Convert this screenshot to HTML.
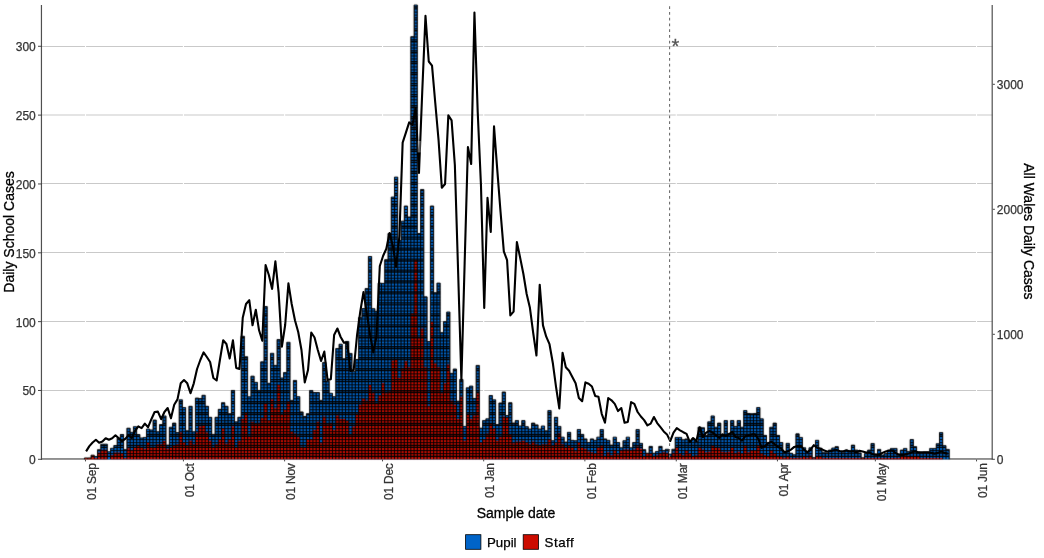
<!DOCTYPE html><html><head><meta charset="utf-8"><title>Daily School Cases</title>
<style>html,body{margin:0;padding:0;background:#fff}svg{display:block}text{font-family:"Liberation Sans",Arial,sans-serif}</style></head><body>
<svg width="1044" height="558" viewBox="0 0 1044 558">
<rect width="1044" height="558" fill="#fff"/>
<path d="M41.6 458.60H992.7M41.6 390.50H992.7M41.6 321.50H992.7M41.6 252.50H992.7M41.6 183.50H992.7M41.6 115.00H992.7M41.6 46.50H992.7" stroke="#c9c9c9" stroke-width="1" fill="none"/>
<path d="M85.52 5.4V459.3M183.43 5.4V459.3M284.61 5.4V459.3M382.53 5.4V459.3M483.70 5.4V459.3M584.88 5.4V459.3M676.27 5.4V459.3M777.45 5.4V459.3M875.36 5.4V459.3M976.54 5.4V459.3" stroke="#fff" stroke-width="1.1" fill="none"/>
<path d="M41 459H993" stroke="#7a7a7a" stroke-width="1.6" fill="none"/>
<defs><filter id="bl" color-interpolation-filters="sRGB" x="0" y="0" width="1044" height="558" filterUnits="userSpaceOnUse"><feConvolveMatrix order="3" kernelMatrix="0.0100 0.0800 0.0100 0.0800 0.6400 0.0800 0.0100 0.0800 0.0100" edgeMode="duplicate" preserveAlpha="false"/></filter><clipPath id="cb"><path d="M94.26 456.55h3.2634V459.30h-3.2634zM97.52 449.66h3.2634V459.30h-3.2634zM100.79 444.16h3.2634V459.30h-3.2634zM104.05 444.16h3.2634V459.30h-3.2634zM107.31 451.73h3.2634V459.30h-3.2634zM110.58 448.29h3.2634V459.30h-3.2634zM113.84 445.53h3.2634V459.30h-3.2634zM117.10 438.10h3.2634V459.30h-3.2634zM120.37 434.52h3.2634V459.30h-3.2634zM123.63 449.66h3.2634V459.30h-3.2634zM126.89 428.19h3.2634V459.30h-3.2634zM130.16 432.32h3.2634V459.30h-3.2634zM133.42 426.67h3.2634V459.30h-3.2634zM136.68 434.52h3.2634V459.30h-3.2634zM139.95 437.96h3.2634V459.30h-3.2634zM143.21 437.41h3.2634V459.30h-3.2634zM146.47 429.01h3.2634V459.30h-3.2634zM149.74 429.98h3.2634V459.30h-3.2634zM153.00 420.06h3.2634V459.30h-3.2634zM156.26 431.77h3.2634V459.30h-3.2634zM159.53 424.61h3.2634V459.30h-3.2634zM162.79 415.93h3.2634V459.30h-3.2634zM166.05 445.12h3.2634V459.30h-3.2634zM169.32 427.22h3.2634V459.30h-3.2634zM172.58 423.09h3.2634V459.30h-3.2634zM175.84 432.59h3.2634V459.30h-3.2634zM179.11 399.83h3.2634V459.30h-3.2634zM182.37 407.54h3.2634V459.30h-3.2634zM185.63 430.80h3.2634V459.30h-3.2634zM188.90 406.30h3.2634V459.30h-3.2634zM192.16 431.77h3.2634V459.30h-3.2634zM195.42 398.04h3.2634V459.30h-3.2634zM198.69 398.59h3.2634V459.30h-3.2634zM201.95 395.28h3.2634V459.30h-3.2634zM205.21 406.30h3.2634V459.30h-3.2634zM208.48 417.31h3.2634V459.30h-3.2634zM211.74 434.38h3.2634V459.30h-3.2634zM215.00 417.31h3.2634V459.30h-3.2634zM218.27 409.33h3.2634V459.30h-3.2634zM221.53 402.72h3.2634V459.30h-3.2634zM224.79 406.30h3.2634V459.30h-3.2634zM228.06 413.73h3.2634V459.30h-3.2634zM231.32 390.47h3.2634V459.30h-3.2634zM234.58 421.85h3.2634V459.30h-3.2634zM237.85 417.31h3.2634V459.30h-3.2634zM241.11 336.22h3.2634V459.30h-3.2634zM244.37 356.74h3.2634V459.30h-3.2634zM247.64 396.80h3.2634V459.30h-3.2634zM250.90 376.15h3.2634V459.30h-3.2634zM254.17 382.34h3.2634V459.30h-3.2634zM257.43 390.47h3.2634V459.30h-3.2634zM260.69 361.83h3.2634V459.30h-3.2634zM263.96 306.49h3.2634V459.30h-3.2634zM267.22 383.31h3.2634V459.30h-3.2634zM270.48 353.29h3.2634V459.30h-3.2634zM273.75 365.41h3.2634V459.30h-3.2634zM277.01 339.53h3.2634V459.30h-3.2634zM280.27 377.94h3.2634V459.30h-3.2634zM283.54 372.57h3.2634V459.30h-3.2634zM286.80 342.28h3.2634V459.30h-3.2634zM290.06 400.38h3.2634V459.30h-3.2634zM293.33 380.42h3.2634V459.30h-3.2634zM296.59 396.66h3.2634V459.30h-3.2634zM299.85 411.94h3.2634V459.30h-3.2634zM303.12 416.48h3.2634V459.30h-3.2634zM306.38 413.73h3.2634V459.30h-3.2634zM309.64 390.60h3.2634V459.30h-3.2634zM312.91 392.53h3.2634V459.30h-3.2634zM316.17 392.53h3.2634V459.30h-3.2634zM319.43 400.38h3.2634V459.30h-3.2634zM322.70 362.38h3.2634V459.30h-3.2634zM325.96 381.10h3.2634V459.30h-3.2634zM329.22 393.22h3.2634V459.30h-3.2634zM332.49 396.66h3.2634V459.30h-3.2634zM335.75 348.61h3.2634V459.30h-3.2634zM339.01 344.21h3.2634V459.30h-3.2634zM342.28 358.80h3.2634V459.30h-3.2634zM345.54 341.45h3.2634V459.30h-3.2634zM348.80 353.43h3.2634V459.30h-3.2634zM352.07 371.47h3.2634V459.30h-3.2634zM355.33 359.49h3.2634V459.30h-3.2634zM358.59 317.64h3.2634V459.30h-3.2634zM361.86 308.55h3.2634V459.30h-3.2634zM365.12 288.59h3.2634V459.30h-3.2634zM368.38 256.51h3.2634V459.30h-3.2634zM371.65 308.69h3.2634V459.30h-3.2634zM374.91 311.30h3.2634V459.30h-3.2634zM378.17 283.08h3.2634V459.30h-3.2634zM381.44 283.36h3.2634V459.30h-3.2634zM384.70 259.68h3.2634V459.30h-3.2634zM387.96 233.52h3.2634V459.30h-3.2634zM391.23 197.04h3.2634V459.30h-3.2634zM394.49 177.08h3.2634V459.30h-3.2634zM397.75 240.40h3.2634V459.30h-3.2634zM401.02 221.13h3.2634V459.30h-3.2634zM404.28 205.99h3.2634V459.30h-3.2634zM407.54 217.00h3.2634V459.30h-3.2634zM410.81 36.65h3.2634V459.30h-3.2634zM414.07 4.99h3.2634V459.30h-3.2634zM417.34 233.52h3.2634V459.30h-3.2634zM420.60 189.47h3.2634V459.30h-3.2634zM423.86 296.85h3.2634V459.30h-3.2634zM427.13 341.59h3.2634V459.30h-3.2634zM430.39 205.99h3.2634V459.30h-3.2634zM433.65 292.72h3.2634V459.30h-3.2634zM436.92 283.08h3.2634V459.30h-3.2634zM440.18 332.64h3.2634V459.30h-3.2634zM443.44 321.63h3.2634V459.30h-3.2634zM446.71 311.99h3.2634V459.30h-3.2634zM449.97 373.39h3.2634V459.30h-3.2634zM453.23 368.99h3.2634V459.30h-3.2634zM456.50 401.20h3.2634V459.30h-3.2634zM459.76 379.45h3.2634V459.30h-3.2634zM463.02 426.40h3.2634V459.30h-3.2634zM466.29 387.85h3.2634V459.30h-3.2634zM469.55 386.06h3.2634V459.30h-3.2634zM472.81 398.59h3.2634V459.30h-3.2634zM476.08 365.41h3.2634V459.30h-3.2634zM479.34 428.19h3.2634V459.30h-3.2634zM482.60 420.61h3.2634V459.30h-3.2634zM485.87 418.83h3.2634V459.30h-3.2634zM489.13 395.56h3.2634V459.30h-3.2634zM492.39 399.83h3.2634V459.30h-3.2634zM495.66 424.61h3.2634V459.30h-3.2634zM498.92 402.99h3.2634V459.30h-3.2634zM502.18 391.98h3.2634V459.30h-3.2634zM505.45 415.52h3.2634V459.30h-3.2634zM508.71 402.72h3.2634V459.30h-3.2634zM511.97 423.09h3.2634V459.30h-3.2634zM515.24 420.61h3.2634V459.30h-3.2634zM518.50 425.98h3.2634V459.30h-3.2634zM521.76 420.61h3.2634V459.30h-3.2634zM525.03 426.67h3.2634V459.30h-3.2634zM528.29 429.01h3.2634V459.30h-3.2634zM531.55 423.09h3.2634V459.30h-3.2634zM534.82 424.88h3.2634V459.30h-3.2634zM538.08 429.01h3.2634V459.30h-3.2634zM541.34 425.98h3.2634V459.30h-3.2634zM544.61 430.80h3.2634V459.30h-3.2634zM547.87 410.56h3.2634V459.30h-3.2634zM551.13 440.71h3.2634V459.30h-3.2634zM554.40 417.31h3.2634V459.30h-3.2634zM557.66 426.40h3.2634V459.30h-3.2634zM560.92 437.14h3.2634V459.30h-3.2634zM564.19 442.09h3.2634V459.30h-3.2634zM567.45 432.32h3.2634V459.30h-3.2634zM570.71 440.30h3.2634V459.30h-3.2634zM573.98 440.71h3.2634V459.30h-3.2634zM577.24 429.56h3.2634V459.30h-3.2634zM580.51 434.38h3.2634V459.30h-3.2634zM583.77 438.92h3.2634V459.30h-3.2634zM587.03 442.50h3.2634V459.30h-3.2634zM590.30 438.92h3.2634V459.30h-3.2634zM593.56 440.30h3.2634V459.30h-3.2634zM596.82 437.14h3.2634V459.30h-3.2634zM600.09 429.56h3.2634V459.30h-3.2634zM603.35 438.92h3.2634V459.30h-3.2634zM606.61 440.30h3.2634V459.30h-3.2634zM609.88 445.12h3.2634V459.30h-3.2634zM613.14 437.14h3.2634V459.30h-3.2634zM616.40 442.50h3.2634V459.30h-3.2634zM619.67 447.87h3.2634V459.30h-3.2634zM622.93 440.71h3.2634V459.30h-3.2634zM626.19 437.14h3.2634V459.30h-3.2634zM629.46 447.87h3.2634V459.30h-3.2634zM632.72 442.50h3.2634V459.30h-3.2634zM635.98 429.56h3.2634V459.30h-3.2634zM639.25 443.33h3.2634V459.30h-3.2634zM642.51 449.66h3.2634V459.30h-3.2634zM649.04 446.36h3.2634V459.30h-3.2634zM652.30 453.24h3.2634V459.30h-3.2634zM655.56 451.45h3.2634V459.30h-3.2634zM658.83 446.36h3.2634V459.30h-3.2634zM662.09 450.49h3.2634V459.30h-3.2634zM665.35 449.25h3.2634V459.30h-3.2634zM668.62 454.07h3.2634V459.30h-3.2634zM671.88 449.25h3.2634V459.30h-3.2634zM675.14 437.41h3.2634V459.30h-3.2634zM678.41 437.41h3.2634V459.30h-3.2634zM681.67 439.75h3.2634V459.30h-3.2634zM684.93 438.92h3.2634V459.30h-3.2634zM688.20 441.54h3.2634V459.30h-3.2634zM691.46 438.92h3.2634V459.30h-3.2634zM694.72 441.54h3.2634V459.30h-3.2634zM697.99 427.22h3.2634V459.30h-3.2634zM701.25 427.77h3.2634V459.30h-3.2634zM704.51 435.35h3.2634V459.30h-3.2634zM707.78 421.85h3.2634V459.30h-3.2634zM711.04 415.93h3.2634V459.30h-3.2634zM714.30 427.22h3.2634V459.30h-3.2634zM717.57 423.09h3.2634V459.30h-3.2634zM720.83 434.38h3.2634V459.30h-3.2634zM724.09 420.61h3.2634V459.30h-3.2634zM727.36 433.56h3.2634V459.30h-3.2634zM730.62 420.61h3.2634V459.30h-3.2634zM733.88 426.40h3.2634V459.30h-3.2634zM737.15 420.61h3.2634V459.30h-3.2634zM740.41 427.22h3.2634V459.30h-3.2634zM743.68 410.56h3.2634V459.30h-3.2634zM746.94 413.46h3.2634V459.30h-3.2634zM750.20 413.73h3.2634V459.30h-3.2634zM753.47 413.46h3.2634V459.30h-3.2634zM756.73 407.54h3.2634V459.30h-3.2634zM759.99 418.83h3.2634V459.30h-3.2634zM763.26 435.35h3.2634V459.30h-3.2634zM766.52 442.50h3.2634V459.30h-3.2634zM769.78 427.22h3.2634V459.30h-3.2634zM773.05 423.09h3.2634V459.30h-3.2634zM776.31 435.35h3.2634V459.30h-3.2634zM779.57 442.50h3.2634V459.30h-3.2634zM782.84 451.45h3.2634V459.30h-3.2634zM786.10 443.33h3.2634V459.30h-3.2634zM789.36 453.24h3.2634V459.30h-3.2634zM792.63 454.76h3.2634V459.30h-3.2634zM795.89 433.83h3.2634V459.30h-3.2634zM799.15 437.41h3.2634V459.30h-3.2634zM802.42 447.87h3.2634V459.30h-3.2634zM805.68 451.45h3.2634V459.30h-3.2634zM808.94 447.87h3.2634V459.30h-3.2634zM812.21 457.65h3.2634V459.30h-3.2634zM815.47 440.30h3.2634V459.30h-3.2634zM818.73 448.15h3.2634V459.30h-3.2634zM822.00 452.14h3.2634V459.30h-3.2634zM825.26 452.83h3.2634V459.30h-3.2634zM828.52 450.08h3.2634V459.30h-3.2634zM831.79 448.01h3.2634V459.30h-3.2634zM835.05 446.63h3.2634V459.30h-3.2634zM838.31 451.45h3.2634V459.30h-3.2634zM841.58 452.14h3.2634V459.30h-3.2634zM844.84 450.08h3.2634V459.30h-3.2634zM848.10 450.76h3.2634V459.30h-3.2634zM851.37 445.12h3.2634V459.30h-3.2634zM854.63 450.08h3.2634V459.30h-3.2634zM857.89 452.83h3.2634V459.30h-3.2634zM861.16 457.79h3.2634V459.30h-3.2634zM864.42 453.52h3.2634V459.30h-3.2634zM867.68 450.08h3.2634V459.30h-3.2634zM870.95 443.47h3.2634V459.30h-3.2634zM874.21 454.21h3.2634V459.30h-3.2634zM877.47 449.39h3.2634V459.30h-3.2634zM880.74 455.03h3.2634V459.30h-3.2634zM884.00 453.52h3.2634V459.30h-3.2634zM887.26 450.08h3.2634V459.30h-3.2634zM890.53 448.42h3.2634V459.30h-3.2634zM893.79 448.42h3.2634V459.30h-3.2634zM897.05 454.21h3.2634V459.30h-3.2634zM900.32 450.08h3.2634V459.30h-3.2634zM903.58 448.42h3.2634V459.30h-3.2634zM906.85 451.45h3.2634V459.30h-3.2634zM910.11 439.61h3.2634V459.30h-3.2634zM913.37 446.63h3.2634V459.30h-3.2634zM916.64 452.14h3.2634V459.30h-3.2634zM919.90 452.83h3.2634V459.30h-3.2634zM923.16 452.14h3.2634V459.30h-3.2634zM926.43 452.14h3.2634V459.30h-3.2634zM929.69 448.42h3.2634V459.30h-3.2634zM932.95 448.42h3.2634V459.30h-3.2634zM936.22 443.74h3.2634V459.30h-3.2634zM939.48 432.59h3.2634V459.30h-3.2634zM942.74 445.67h3.2634V459.30h-3.2634zM946.01 449.39h3.2634V459.30h-3.2634zM84.47 457.92h3.2634V459.30h-3.2634zM87.73 457.92h3.2634V459.30h-3.2634zM91.00 455.17h3.2634V459.30h-3.2634zM94.26 457.92h3.2634V459.30h-3.2634zM97.52 452.42h3.2634V459.30h-3.2634zM100.79 449.66h3.2634V459.30h-3.2634zM104.05 449.66h3.2634V459.30h-3.2634zM110.58 455.17h3.2634V459.30h-3.2634zM113.84 452.42h3.2634V459.30h-3.2634zM117.10 452.42h3.2634V459.30h-3.2634zM120.37 452.97h3.2634V459.30h-3.2634zM123.63 457.92h3.2634V459.30h-3.2634zM126.89 448.29h3.2634V459.30h-3.2634zM130.16 449.66h3.2634V459.30h-3.2634zM133.42 446.91h3.2634V459.30h-3.2634zM136.68 444.98h3.2634V459.30h-3.2634zM139.95 446.91h3.2634V459.30h-3.2634zM143.21 448.70h3.2634V459.30h-3.2634zM146.47 442.50h3.2634V459.30h-3.2634zM149.74 447.87h3.2634V459.30h-3.2634zM153.00 447.87h3.2634V459.30h-3.2634zM156.26 444.29h3.2634V459.30h-3.2634zM159.53 444.29h3.2634V459.30h-3.2634zM162.79 440.99h3.2634V459.30h-3.2634zM166.05 448.70h3.2634V459.30h-3.2634zM169.32 447.87h3.2634V459.30h-3.2634zM172.58 445.67h3.2634V459.30h-3.2634zM175.84 444.29h3.2634V459.30h-3.2634zM179.11 432.59h3.2634V459.30h-3.2634zM182.37 442.50h3.2634V459.30h-3.2634zM185.63 446.08h3.2634V459.30h-3.2634zM188.90 440.71h3.2634V459.30h-3.2634zM192.16 444.29h3.2634V459.30h-3.2634zM195.42 432.59h3.2634V459.30h-3.2634zM198.69 426.40h3.2634V459.30h-3.2634zM201.95 424.88h3.2634V459.30h-3.2634zM205.21 432.59h3.2634V459.30h-3.2634zM208.48 440.71h3.2634V459.30h-3.2634zM211.74 447.87h3.2634V459.30h-3.2634zM215.00 444.29h3.2634V459.30h-3.2634zM218.27 438.92h3.2634V459.30h-3.2634zM221.53 428.19h3.2634V459.30h-3.2634zM224.79 443.74h3.2634V459.30h-3.2634zM228.06 438.92h3.2634V459.30h-3.2634zM231.32 426.40h3.2634V459.30h-3.2634zM234.58 447.87h3.2634V459.30h-3.2634zM237.85 440.71h3.2634V459.30h-3.2634zM241.11 419.10h3.2634V459.30h-3.2634zM244.37 412.91h3.2634V459.30h-3.2634zM247.64 436.86h3.2634V459.30h-3.2634zM250.90 421.85h3.2634V459.30h-3.2634zM254.17 423.64h3.2634V459.30h-3.2634zM257.43 422.68h3.2634V459.30h-3.2634zM260.69 418.27h3.2634V459.30h-3.2634zM263.96 402.99h3.2634V459.30h-3.2634zM267.22 420.20h3.2634V459.30h-3.2634zM270.48 399.41h3.2634V459.30h-3.2634zM273.75 408.36h3.2634V459.30h-3.2634zM277.01 385.10h3.2634V459.30h-3.2634zM280.27 414.42h3.2634V459.30h-3.2634zM283.54 409.74h3.2634V459.30h-3.2634zM286.80 401.20h3.2634V459.30h-3.2634zM290.06 431.77h3.2634V459.30h-3.2634zM293.33 433.56h3.2634V459.30h-3.2634zM296.59 437.14h3.2634V459.30h-3.2634zM299.85 446.63h3.2634V459.30h-3.2634zM303.12 447.87h3.2634V459.30h-3.2634zM306.38 438.92h3.2634V459.30h-3.2634zM309.64 438.92h3.2634V459.30h-3.2634zM312.91 429.98h3.2634V459.30h-3.2634zM316.17 421.85h3.2634V459.30h-3.2634zM319.43 443.33h3.2634V459.30h-3.2634zM322.70 416.48h3.2634V459.30h-3.2634zM325.96 424.61h3.2634V459.30h-3.2634zM329.22 422.68h3.2634V459.30h-3.2634zM332.49 429.98h3.2634V459.30h-3.2634zM335.75 415.52h3.2634V459.30h-3.2634zM339.01 419.10h3.2634V459.30h-3.2634zM342.28 419.10h3.2634V459.30h-3.2634zM345.54 420.89h3.2634V459.30h-3.2634zM348.80 435.35h3.2634V459.30h-3.2634zM352.07 426.40h3.2634V459.30h-3.2634zM355.33 413.73h3.2634V459.30h-3.2634zM358.59 404.78h3.2634V459.30h-3.2634zM361.86 398.59h3.2634V459.30h-3.2634zM365.12 400.38h3.2634V459.30h-3.2634zM368.38 385.10h3.2634V459.30h-3.2634zM371.65 393.22h3.2634V459.30h-3.2634zM374.91 402.99h3.2634V459.30h-3.2634zM378.17 395.01h3.2634V459.30h-3.2634zM381.44 383.31h3.2634V459.30h-3.2634zM384.70 393.22h3.2634V459.30h-3.2634zM387.96 391.43h3.2634V459.30h-3.2634zM391.23 360.59h3.2634V459.30h-3.2634zM394.49 359.76h3.2634V459.30h-3.2634zM397.75 378.07h3.2634V459.30h-3.2634zM401.02 367.75h3.2634V459.30h-3.2634zM404.28 361.28h3.2634V459.30h-3.2634zM407.54 367.20h3.2634V459.30h-3.2634zM410.81 313.37h3.2634V459.30h-3.2634zM414.07 259.68h3.2634V459.30h-3.2634zM417.34 338.15h3.2634V459.30h-3.2634zM420.60 328.51h3.2634V459.30h-3.2634zM423.86 367.20h3.2634V459.30h-3.2634zM427.13 405.75h3.2634V459.30h-3.2634zM430.39 321.63h3.2634V459.30h-3.2634zM433.65 363.62h3.2634V459.30h-3.2634zM436.92 367.20h3.2634V459.30h-3.2634zM440.18 393.22h3.2634V459.30h-3.2634zM443.44 383.31h3.2634V459.30h-3.2634zM446.71 364.45h3.2634V459.30h-3.2634zM449.97 400.38h3.2634V459.30h-3.2634zM453.23 404.78h3.2634V459.30h-3.2634zM456.50 419.10h3.2634V459.30h-3.2634zM459.76 396.80h3.2634V459.30h-3.2634zM463.02 440.71h3.2634V459.30h-3.2634zM466.29 413.73h3.2634V459.30h-3.2634zM469.55 419.10h3.2634V459.30h-3.2634zM472.81 415.52h3.2634V459.30h-3.2634zM476.08 393.22h3.2634V459.30h-3.2634zM479.34 442.50h3.2634V459.30h-3.2634zM482.60 438.92h3.2634V459.30h-3.2634zM485.87 433.56h3.2634V459.30h-3.2634zM489.13 423.64h3.2634V459.30h-3.2634zM492.39 428.19h3.2634V459.30h-3.2634zM495.66 440.71h3.2634V459.30h-3.2634zM498.92 437.14h3.2634V459.30h-3.2634zM502.18 416.48h3.2634V459.30h-3.2634zM505.45 417.31h3.2634V459.30h-3.2634zM508.71 434.38h3.2634V459.30h-3.2634zM511.97 443.33h3.2634V459.30h-3.2634zM515.24 441.54h3.2634V459.30h-3.2634zM518.50 441.54h3.2634V459.30h-3.2634zM521.76 440.71h3.2634V459.30h-3.2634zM525.03 442.50h3.2634V459.30h-3.2634zM528.29 444.29h3.2634V459.30h-3.2634zM531.55 441.54h3.2634V459.30h-3.2634zM534.82 444.29h3.2634V459.30h-3.2634zM538.08 446.08h3.2634V459.30h-3.2634zM541.34 444.29h3.2634V459.30h-3.2634zM544.61 444.29h3.2634V459.30h-3.2634zM547.87 438.92h3.2634V459.30h-3.2634zM551.13 446.08h3.2634V459.30h-3.2634zM554.40 443.33h3.2634V459.30h-3.2634zM557.66 433.14h3.2634V459.30h-3.2634zM560.92 444.29h3.2634V459.30h-3.2634zM564.19 446.91h3.2634V459.30h-3.2634zM567.45 446.08h3.2634V459.30h-3.2634zM570.71 447.87h3.2634V459.30h-3.2634zM573.98 451.32h3.2634V459.30h-3.2634zM577.24 442.23h3.2634V459.30h-3.2634zM580.51 447.87h3.2634V459.30h-3.2634zM583.77 448.70h3.2634V459.30h-3.2634zM587.03 451.45h3.2634V459.30h-3.2634zM590.30 452.28h3.2634V459.30h-3.2634zM593.56 453.10h3.2634V459.30h-3.2634zM596.82 446.91h3.2634V459.30h-3.2634zM600.09 444.98h3.2634V459.30h-3.2634zM603.35 455.86h3.2634V459.30h-3.2634zM606.61 452.28h3.2634V459.30h-3.2634zM609.88 455.17h3.2634V459.30h-3.2634zM613.14 449.66h3.2634V459.30h-3.2634zM616.40 454.48h3.2634V459.30h-3.2634zM619.67 450.49h3.2634V459.30h-3.2634zM622.93 449.39h3.2634V459.30h-3.2634zM626.19 449.39h3.2634V459.30h-3.2634zM629.46 449.94h3.2634V459.30h-3.2634zM632.72 449.39h3.2634V459.30h-3.2634zM635.98 446.50h3.2634V459.30h-3.2634zM639.25 448.84h3.2634V459.30h-3.2634zM642.51 456.27h3.2634V459.30h-3.2634zM645.77 453.24h3.2634V459.30h-3.2634zM649.04 453.38h3.2634V459.30h-3.2634zM652.30 456.27h3.2634V459.30h-3.2634zM655.56 455.17h3.2634V459.30h-3.2634zM658.83 453.38h3.2634V459.30h-3.2634zM662.09 452.28h3.2634V459.30h-3.2634zM665.35 452.83h3.2634V459.30h-3.2634zM668.62 456.82h3.2634V459.30h-3.2634zM671.88 452.83h3.2634V459.30h-3.2634zM675.14 447.19h3.2634V459.30h-3.2634zM678.41 453.38h3.2634V459.30h-3.2634zM681.67 455.17h3.2634V459.30h-3.2634zM684.93 450.63h3.2634V459.30h-3.2634zM688.20 453.38h3.2634V459.30h-3.2634zM691.46 456.27h3.2634V459.30h-3.2634zM694.72 455.17h3.2634V459.30h-3.2634zM697.99 447.74h3.2634V459.30h-3.2634zM701.25 449.39h3.2634V459.30h-3.2634zM704.51 452.28h3.2634V459.30h-3.2634zM707.78 451.73h3.2634V459.30h-3.2634zM711.04 445.40h3.2634V459.30h-3.2634zM714.30 447.74h3.2634V459.30h-3.2634zM717.57 448.29h3.2634V459.30h-3.2634zM720.83 451.73h3.2634V459.30h-3.2634zM724.09 452.28h3.2634V459.30h-3.2634zM727.36 451.73h3.2634V459.30h-3.2634zM730.62 447.74h3.2634V459.30h-3.2634zM733.88 452.83h3.2634V459.30h-3.2634zM737.15 451.73h3.2634V459.30h-3.2634zM740.41 453.24h3.2634V459.30h-3.2634zM743.68 446.08h3.2634V459.30h-3.2634zM746.94 452.28h3.2634V459.30h-3.2634zM750.20 450.49h3.2634V459.30h-3.2634zM753.47 450.49h3.2634V459.30h-3.2634zM756.73 445.12h3.2634V459.30h-3.2634zM759.99 453.24h3.2634V459.30h-3.2634zM763.26 455.03h3.2634V459.30h-3.2634zM766.52 456.82h3.2634V459.30h-3.2634zM769.78 450.49h3.2634V459.30h-3.2634zM773.05 454.07h3.2634V459.30h-3.2634zM776.31 455.86h3.2634V459.30h-3.2634zM779.57 456.82h3.2634V459.30h-3.2634zM782.84 457.65h3.2634V459.30h-3.2634zM786.10 456.82h3.2634V459.30h-3.2634zM789.36 457.65h3.2634V459.30h-3.2634zM792.63 457.92h3.2634V459.30h-3.2634zM795.89 457.65h3.2634V459.30h-3.2634zM799.15 457.65h3.2634V459.30h-3.2634zM802.42 456.82h3.2634V459.30h-3.2634zM805.68 457.65h3.2634V459.30h-3.2634zM808.94 455.45h3.2634V459.30h-3.2634zM812.21 458.20h3.2634V459.30h-3.2634zM815.47 455.86h3.2634V459.30h-3.2634zM818.73 456.82h3.2634V459.30h-3.2634zM822.00 457.92h3.2634V459.30h-3.2634zM825.26 457.92h3.2634V459.30h-3.2634zM828.52 457.92h3.2634V459.30h-3.2634zM831.79 457.92h3.2634V459.30h-3.2634zM835.05 457.92h3.2634V459.30h-3.2634zM838.31 457.92h3.2634V459.30h-3.2634zM841.58 457.92h3.2634V459.30h-3.2634zM844.84 457.92h3.2634V459.30h-3.2634zM848.10 457.92h3.2634V459.30h-3.2634zM851.37 457.92h3.2634V459.30h-3.2634zM854.63 457.92h3.2634V459.30h-3.2634zM857.89 457.92h3.2634V459.30h-3.2634zM861.16 457.92h3.2634V459.30h-3.2634zM864.42 457.92h3.2634V459.30h-3.2634zM867.68 457.92h3.2634V459.30h-3.2634zM870.95 457.92h3.2634V459.30h-3.2634zM874.21 457.92h3.2634V459.30h-3.2634zM877.47 457.92h3.2634V459.30h-3.2634zM880.74 457.92h3.2634V459.30h-3.2634zM884.00 457.92h3.2634V459.30h-3.2634zM887.26 457.92h3.2634V459.30h-3.2634zM890.53 457.92h3.2634V459.30h-3.2634zM893.79 457.92h3.2634V459.30h-3.2634zM897.05 457.92h3.2634V459.30h-3.2634zM900.32 456.55h3.2634V459.30h-3.2634zM903.58 456.55h3.2634V459.30h-3.2634zM906.85 456.55h3.2634V459.30h-3.2634zM910.11 456.55h3.2634V459.30h-3.2634zM913.37 456.55h3.2634V459.30h-3.2634zM916.64 456.55h3.2634V459.30h-3.2634zM919.90 457.92h3.2634V459.30h-3.2634zM923.16 457.92h3.2634V459.30h-3.2634zM926.43 457.92h3.2634V459.30h-3.2634zM929.69 457.92h3.2634V459.30h-3.2634zM932.95 457.92h3.2634V459.30h-3.2634zM936.22 457.92h3.2634V459.30h-3.2634zM939.48 457.92h3.2634V459.30h-3.2634z"/></clipPath></defs>
<g filter="url(#bl)">
<path d="M94.26 456.55h3.2634V459.30h-3.2634zM97.52 449.66h3.2634V459.30h-3.2634zM100.79 444.16h3.2634V459.30h-3.2634zM104.05 444.16h3.2634V459.30h-3.2634zM107.31 451.73h3.2634V459.30h-3.2634zM110.58 448.29h3.2634V459.30h-3.2634zM113.84 445.53h3.2634V459.30h-3.2634zM117.10 438.10h3.2634V459.30h-3.2634zM120.37 434.52h3.2634V459.30h-3.2634zM123.63 449.66h3.2634V459.30h-3.2634zM126.89 428.19h3.2634V459.30h-3.2634zM130.16 432.32h3.2634V459.30h-3.2634zM133.42 426.67h3.2634V459.30h-3.2634zM136.68 434.52h3.2634V459.30h-3.2634zM139.95 437.96h3.2634V459.30h-3.2634zM143.21 437.41h3.2634V459.30h-3.2634zM146.47 429.01h3.2634V459.30h-3.2634zM149.74 429.98h3.2634V459.30h-3.2634zM153.00 420.06h3.2634V459.30h-3.2634zM156.26 431.77h3.2634V459.30h-3.2634zM159.53 424.61h3.2634V459.30h-3.2634zM162.79 415.93h3.2634V459.30h-3.2634zM166.05 445.12h3.2634V459.30h-3.2634zM169.32 427.22h3.2634V459.30h-3.2634zM172.58 423.09h3.2634V459.30h-3.2634zM175.84 432.59h3.2634V459.30h-3.2634zM179.11 399.83h3.2634V459.30h-3.2634zM182.37 407.54h3.2634V459.30h-3.2634zM185.63 430.80h3.2634V459.30h-3.2634zM188.90 406.30h3.2634V459.30h-3.2634zM192.16 431.77h3.2634V459.30h-3.2634zM195.42 398.04h3.2634V459.30h-3.2634zM198.69 398.59h3.2634V459.30h-3.2634zM201.95 395.28h3.2634V459.30h-3.2634zM205.21 406.30h3.2634V459.30h-3.2634zM208.48 417.31h3.2634V459.30h-3.2634zM211.74 434.38h3.2634V459.30h-3.2634zM215.00 417.31h3.2634V459.30h-3.2634zM218.27 409.33h3.2634V459.30h-3.2634zM221.53 402.72h3.2634V459.30h-3.2634zM224.79 406.30h3.2634V459.30h-3.2634zM228.06 413.73h3.2634V459.30h-3.2634zM231.32 390.47h3.2634V459.30h-3.2634zM234.58 421.85h3.2634V459.30h-3.2634zM237.85 417.31h3.2634V459.30h-3.2634zM241.11 336.22h3.2634V459.30h-3.2634zM244.37 356.74h3.2634V459.30h-3.2634zM247.64 396.80h3.2634V459.30h-3.2634zM250.90 376.15h3.2634V459.30h-3.2634zM254.17 382.34h3.2634V459.30h-3.2634zM257.43 390.47h3.2634V459.30h-3.2634zM260.69 361.83h3.2634V459.30h-3.2634zM263.96 306.49h3.2634V459.30h-3.2634zM267.22 383.31h3.2634V459.30h-3.2634zM270.48 353.29h3.2634V459.30h-3.2634zM273.75 365.41h3.2634V459.30h-3.2634zM277.01 339.53h3.2634V459.30h-3.2634zM280.27 377.94h3.2634V459.30h-3.2634zM283.54 372.57h3.2634V459.30h-3.2634zM286.80 342.28h3.2634V459.30h-3.2634zM290.06 400.38h3.2634V459.30h-3.2634zM293.33 380.42h3.2634V459.30h-3.2634zM296.59 396.66h3.2634V459.30h-3.2634zM299.85 411.94h3.2634V459.30h-3.2634zM303.12 416.48h3.2634V459.30h-3.2634zM306.38 413.73h3.2634V459.30h-3.2634zM309.64 390.60h3.2634V459.30h-3.2634zM312.91 392.53h3.2634V459.30h-3.2634zM316.17 392.53h3.2634V459.30h-3.2634zM319.43 400.38h3.2634V459.30h-3.2634zM322.70 362.38h3.2634V459.30h-3.2634zM325.96 381.10h3.2634V459.30h-3.2634zM329.22 393.22h3.2634V459.30h-3.2634zM332.49 396.66h3.2634V459.30h-3.2634zM335.75 348.61h3.2634V459.30h-3.2634zM339.01 344.21h3.2634V459.30h-3.2634zM342.28 358.80h3.2634V459.30h-3.2634zM345.54 341.45h3.2634V459.30h-3.2634zM348.80 353.43h3.2634V459.30h-3.2634zM352.07 371.47h3.2634V459.30h-3.2634zM355.33 359.49h3.2634V459.30h-3.2634zM358.59 317.64h3.2634V459.30h-3.2634zM361.86 308.55h3.2634V459.30h-3.2634zM365.12 288.59h3.2634V459.30h-3.2634zM368.38 256.51h3.2634V459.30h-3.2634zM371.65 308.69h3.2634V459.30h-3.2634zM374.91 311.30h3.2634V459.30h-3.2634zM378.17 283.08h3.2634V459.30h-3.2634zM381.44 283.36h3.2634V459.30h-3.2634zM384.70 259.68h3.2634V459.30h-3.2634zM387.96 233.52h3.2634V459.30h-3.2634zM391.23 197.04h3.2634V459.30h-3.2634zM394.49 177.08h3.2634V459.30h-3.2634zM397.75 240.40h3.2634V459.30h-3.2634zM401.02 221.13h3.2634V459.30h-3.2634zM404.28 205.99h3.2634V459.30h-3.2634zM407.54 217.00h3.2634V459.30h-3.2634zM410.81 36.65h3.2634V459.30h-3.2634zM414.07 4.99h3.2634V459.30h-3.2634zM417.34 233.52h3.2634V459.30h-3.2634zM420.60 189.47h3.2634V459.30h-3.2634zM423.86 296.85h3.2634V459.30h-3.2634zM427.13 341.59h3.2634V459.30h-3.2634zM430.39 205.99h3.2634V459.30h-3.2634zM433.65 292.72h3.2634V459.30h-3.2634zM436.92 283.08h3.2634V459.30h-3.2634zM440.18 332.64h3.2634V459.30h-3.2634zM443.44 321.63h3.2634V459.30h-3.2634zM446.71 311.99h3.2634V459.30h-3.2634zM449.97 373.39h3.2634V459.30h-3.2634zM453.23 368.99h3.2634V459.30h-3.2634zM456.50 401.20h3.2634V459.30h-3.2634zM459.76 379.45h3.2634V459.30h-3.2634zM463.02 426.40h3.2634V459.30h-3.2634zM466.29 387.85h3.2634V459.30h-3.2634zM469.55 386.06h3.2634V459.30h-3.2634zM472.81 398.59h3.2634V459.30h-3.2634zM476.08 365.41h3.2634V459.30h-3.2634zM479.34 428.19h3.2634V459.30h-3.2634zM482.60 420.61h3.2634V459.30h-3.2634zM485.87 418.83h3.2634V459.30h-3.2634zM489.13 395.56h3.2634V459.30h-3.2634zM492.39 399.83h3.2634V459.30h-3.2634zM495.66 424.61h3.2634V459.30h-3.2634zM498.92 402.99h3.2634V459.30h-3.2634zM502.18 391.98h3.2634V459.30h-3.2634zM505.45 415.52h3.2634V459.30h-3.2634zM508.71 402.72h3.2634V459.30h-3.2634zM511.97 423.09h3.2634V459.30h-3.2634zM515.24 420.61h3.2634V459.30h-3.2634zM518.50 425.98h3.2634V459.30h-3.2634zM521.76 420.61h3.2634V459.30h-3.2634zM525.03 426.67h3.2634V459.30h-3.2634zM528.29 429.01h3.2634V459.30h-3.2634zM531.55 423.09h3.2634V459.30h-3.2634zM534.82 424.88h3.2634V459.30h-3.2634zM538.08 429.01h3.2634V459.30h-3.2634zM541.34 425.98h3.2634V459.30h-3.2634zM544.61 430.80h3.2634V459.30h-3.2634zM547.87 410.56h3.2634V459.30h-3.2634zM551.13 440.71h3.2634V459.30h-3.2634zM554.40 417.31h3.2634V459.30h-3.2634zM557.66 426.40h3.2634V459.30h-3.2634zM560.92 437.14h3.2634V459.30h-3.2634zM564.19 442.09h3.2634V459.30h-3.2634zM567.45 432.32h3.2634V459.30h-3.2634zM570.71 440.30h3.2634V459.30h-3.2634zM573.98 440.71h3.2634V459.30h-3.2634zM577.24 429.56h3.2634V459.30h-3.2634zM580.51 434.38h3.2634V459.30h-3.2634zM583.77 438.92h3.2634V459.30h-3.2634zM587.03 442.50h3.2634V459.30h-3.2634zM590.30 438.92h3.2634V459.30h-3.2634zM593.56 440.30h3.2634V459.30h-3.2634zM596.82 437.14h3.2634V459.30h-3.2634zM600.09 429.56h3.2634V459.30h-3.2634zM603.35 438.92h3.2634V459.30h-3.2634zM606.61 440.30h3.2634V459.30h-3.2634zM609.88 445.12h3.2634V459.30h-3.2634zM613.14 437.14h3.2634V459.30h-3.2634zM616.40 442.50h3.2634V459.30h-3.2634zM619.67 447.87h3.2634V459.30h-3.2634zM622.93 440.71h3.2634V459.30h-3.2634zM626.19 437.14h3.2634V459.30h-3.2634zM629.46 447.87h3.2634V459.30h-3.2634zM632.72 442.50h3.2634V459.30h-3.2634zM635.98 429.56h3.2634V459.30h-3.2634zM639.25 443.33h3.2634V459.30h-3.2634zM642.51 449.66h3.2634V459.30h-3.2634zM649.04 446.36h3.2634V459.30h-3.2634zM652.30 453.24h3.2634V459.30h-3.2634zM655.56 451.45h3.2634V459.30h-3.2634zM658.83 446.36h3.2634V459.30h-3.2634zM662.09 450.49h3.2634V459.30h-3.2634zM665.35 449.25h3.2634V459.30h-3.2634zM668.62 454.07h3.2634V459.30h-3.2634zM671.88 449.25h3.2634V459.30h-3.2634zM675.14 437.41h3.2634V459.30h-3.2634zM678.41 437.41h3.2634V459.30h-3.2634zM681.67 439.75h3.2634V459.30h-3.2634zM684.93 438.92h3.2634V459.30h-3.2634zM688.20 441.54h3.2634V459.30h-3.2634zM691.46 438.92h3.2634V459.30h-3.2634zM694.72 441.54h3.2634V459.30h-3.2634zM697.99 427.22h3.2634V459.30h-3.2634zM701.25 427.77h3.2634V459.30h-3.2634zM704.51 435.35h3.2634V459.30h-3.2634zM707.78 421.85h3.2634V459.30h-3.2634zM711.04 415.93h3.2634V459.30h-3.2634zM714.30 427.22h3.2634V459.30h-3.2634zM717.57 423.09h3.2634V459.30h-3.2634zM720.83 434.38h3.2634V459.30h-3.2634zM724.09 420.61h3.2634V459.30h-3.2634zM727.36 433.56h3.2634V459.30h-3.2634zM730.62 420.61h3.2634V459.30h-3.2634zM733.88 426.40h3.2634V459.30h-3.2634zM737.15 420.61h3.2634V459.30h-3.2634zM740.41 427.22h3.2634V459.30h-3.2634zM743.68 410.56h3.2634V459.30h-3.2634zM746.94 413.46h3.2634V459.30h-3.2634zM750.20 413.73h3.2634V459.30h-3.2634zM753.47 413.46h3.2634V459.30h-3.2634zM756.73 407.54h3.2634V459.30h-3.2634zM759.99 418.83h3.2634V459.30h-3.2634zM763.26 435.35h3.2634V459.30h-3.2634zM766.52 442.50h3.2634V459.30h-3.2634zM769.78 427.22h3.2634V459.30h-3.2634zM773.05 423.09h3.2634V459.30h-3.2634zM776.31 435.35h3.2634V459.30h-3.2634zM779.57 442.50h3.2634V459.30h-3.2634zM782.84 451.45h3.2634V459.30h-3.2634zM786.10 443.33h3.2634V459.30h-3.2634zM789.36 453.24h3.2634V459.30h-3.2634zM792.63 454.76h3.2634V459.30h-3.2634zM795.89 433.83h3.2634V459.30h-3.2634zM799.15 437.41h3.2634V459.30h-3.2634zM802.42 447.87h3.2634V459.30h-3.2634zM805.68 451.45h3.2634V459.30h-3.2634zM808.94 447.87h3.2634V459.30h-3.2634zM812.21 457.65h3.2634V459.30h-3.2634zM815.47 440.30h3.2634V459.30h-3.2634zM818.73 448.15h3.2634V459.30h-3.2634zM822.00 452.14h3.2634V459.30h-3.2634zM825.26 452.83h3.2634V459.30h-3.2634zM828.52 450.08h3.2634V459.30h-3.2634zM831.79 448.01h3.2634V459.30h-3.2634zM835.05 446.63h3.2634V459.30h-3.2634zM838.31 451.45h3.2634V459.30h-3.2634zM841.58 452.14h3.2634V459.30h-3.2634zM844.84 450.08h3.2634V459.30h-3.2634zM848.10 450.76h3.2634V459.30h-3.2634zM851.37 445.12h3.2634V459.30h-3.2634zM854.63 450.08h3.2634V459.30h-3.2634zM857.89 452.83h3.2634V459.30h-3.2634zM861.16 457.79h3.2634V459.30h-3.2634zM864.42 453.52h3.2634V459.30h-3.2634zM867.68 450.08h3.2634V459.30h-3.2634zM870.95 443.47h3.2634V459.30h-3.2634zM874.21 454.21h3.2634V459.30h-3.2634zM877.47 449.39h3.2634V459.30h-3.2634zM880.74 455.03h3.2634V459.30h-3.2634zM884.00 453.52h3.2634V459.30h-3.2634zM887.26 450.08h3.2634V459.30h-3.2634zM890.53 448.42h3.2634V459.30h-3.2634zM893.79 448.42h3.2634V459.30h-3.2634zM897.05 454.21h3.2634V459.30h-3.2634zM900.32 450.08h3.2634V459.30h-3.2634zM903.58 448.42h3.2634V459.30h-3.2634zM906.85 451.45h3.2634V459.30h-3.2634zM910.11 439.61h3.2634V459.30h-3.2634zM913.37 446.63h3.2634V459.30h-3.2634zM916.64 452.14h3.2634V459.30h-3.2634zM919.90 452.83h3.2634V459.30h-3.2634zM923.16 452.14h3.2634V459.30h-3.2634zM926.43 452.14h3.2634V459.30h-3.2634zM929.69 448.42h3.2634V459.30h-3.2634zM932.95 448.42h3.2634V459.30h-3.2634zM936.22 443.74h3.2634V459.30h-3.2634zM939.48 432.59h3.2634V459.30h-3.2634zM942.74 445.67h3.2634V459.30h-3.2634zM946.01 449.39h3.2634V459.30h-3.2634z" fill="#0064c8"/>
<path d="M84.47 457.92h3.2634V459.30h-3.2634zM87.73 457.92h3.2634V459.30h-3.2634zM91.00 455.17h3.2634V459.30h-3.2634zM94.26 457.92h3.2634V459.30h-3.2634zM97.52 452.42h3.2634V459.30h-3.2634zM100.79 449.66h3.2634V459.30h-3.2634zM104.05 449.66h3.2634V459.30h-3.2634zM110.58 455.17h3.2634V459.30h-3.2634zM113.84 452.42h3.2634V459.30h-3.2634zM117.10 452.42h3.2634V459.30h-3.2634zM120.37 452.97h3.2634V459.30h-3.2634zM123.63 457.92h3.2634V459.30h-3.2634zM126.89 448.29h3.2634V459.30h-3.2634zM130.16 449.66h3.2634V459.30h-3.2634zM133.42 446.91h3.2634V459.30h-3.2634zM136.68 444.98h3.2634V459.30h-3.2634zM139.95 446.91h3.2634V459.30h-3.2634zM143.21 448.70h3.2634V459.30h-3.2634zM146.47 442.50h3.2634V459.30h-3.2634zM149.74 447.87h3.2634V459.30h-3.2634zM153.00 447.87h3.2634V459.30h-3.2634zM156.26 444.29h3.2634V459.30h-3.2634zM159.53 444.29h3.2634V459.30h-3.2634zM162.79 440.99h3.2634V459.30h-3.2634zM166.05 448.70h3.2634V459.30h-3.2634zM169.32 447.87h3.2634V459.30h-3.2634zM172.58 445.67h3.2634V459.30h-3.2634zM175.84 444.29h3.2634V459.30h-3.2634zM179.11 432.59h3.2634V459.30h-3.2634zM182.37 442.50h3.2634V459.30h-3.2634zM185.63 446.08h3.2634V459.30h-3.2634zM188.90 440.71h3.2634V459.30h-3.2634zM192.16 444.29h3.2634V459.30h-3.2634zM195.42 432.59h3.2634V459.30h-3.2634zM198.69 426.40h3.2634V459.30h-3.2634zM201.95 424.88h3.2634V459.30h-3.2634zM205.21 432.59h3.2634V459.30h-3.2634zM208.48 440.71h3.2634V459.30h-3.2634zM211.74 447.87h3.2634V459.30h-3.2634zM215.00 444.29h3.2634V459.30h-3.2634zM218.27 438.92h3.2634V459.30h-3.2634zM221.53 428.19h3.2634V459.30h-3.2634zM224.79 443.74h3.2634V459.30h-3.2634zM228.06 438.92h3.2634V459.30h-3.2634zM231.32 426.40h3.2634V459.30h-3.2634zM234.58 447.87h3.2634V459.30h-3.2634zM237.85 440.71h3.2634V459.30h-3.2634zM241.11 419.10h3.2634V459.30h-3.2634zM244.37 412.91h3.2634V459.30h-3.2634zM247.64 436.86h3.2634V459.30h-3.2634zM250.90 421.85h3.2634V459.30h-3.2634zM254.17 423.64h3.2634V459.30h-3.2634zM257.43 422.68h3.2634V459.30h-3.2634zM260.69 418.27h3.2634V459.30h-3.2634zM263.96 402.99h3.2634V459.30h-3.2634zM267.22 420.20h3.2634V459.30h-3.2634zM270.48 399.41h3.2634V459.30h-3.2634zM273.75 408.36h3.2634V459.30h-3.2634zM277.01 385.10h3.2634V459.30h-3.2634zM280.27 414.42h3.2634V459.30h-3.2634zM283.54 409.74h3.2634V459.30h-3.2634zM286.80 401.20h3.2634V459.30h-3.2634zM290.06 431.77h3.2634V459.30h-3.2634zM293.33 433.56h3.2634V459.30h-3.2634zM296.59 437.14h3.2634V459.30h-3.2634zM299.85 446.63h3.2634V459.30h-3.2634zM303.12 447.87h3.2634V459.30h-3.2634zM306.38 438.92h3.2634V459.30h-3.2634zM309.64 438.92h3.2634V459.30h-3.2634zM312.91 429.98h3.2634V459.30h-3.2634zM316.17 421.85h3.2634V459.30h-3.2634zM319.43 443.33h3.2634V459.30h-3.2634zM322.70 416.48h3.2634V459.30h-3.2634zM325.96 424.61h3.2634V459.30h-3.2634zM329.22 422.68h3.2634V459.30h-3.2634zM332.49 429.98h3.2634V459.30h-3.2634zM335.75 415.52h3.2634V459.30h-3.2634zM339.01 419.10h3.2634V459.30h-3.2634zM342.28 419.10h3.2634V459.30h-3.2634zM345.54 420.89h3.2634V459.30h-3.2634zM348.80 435.35h3.2634V459.30h-3.2634zM352.07 426.40h3.2634V459.30h-3.2634zM355.33 413.73h3.2634V459.30h-3.2634zM358.59 404.78h3.2634V459.30h-3.2634zM361.86 398.59h3.2634V459.30h-3.2634zM365.12 400.38h3.2634V459.30h-3.2634zM368.38 385.10h3.2634V459.30h-3.2634zM371.65 393.22h3.2634V459.30h-3.2634zM374.91 402.99h3.2634V459.30h-3.2634zM378.17 395.01h3.2634V459.30h-3.2634zM381.44 383.31h3.2634V459.30h-3.2634zM384.70 393.22h3.2634V459.30h-3.2634zM387.96 391.43h3.2634V459.30h-3.2634zM391.23 360.59h3.2634V459.30h-3.2634zM394.49 359.76h3.2634V459.30h-3.2634zM397.75 378.07h3.2634V459.30h-3.2634zM401.02 367.75h3.2634V459.30h-3.2634zM404.28 361.28h3.2634V459.30h-3.2634zM407.54 367.20h3.2634V459.30h-3.2634zM410.81 313.37h3.2634V459.30h-3.2634zM414.07 259.68h3.2634V459.30h-3.2634zM417.34 338.15h3.2634V459.30h-3.2634zM420.60 328.51h3.2634V459.30h-3.2634zM423.86 367.20h3.2634V459.30h-3.2634zM427.13 405.75h3.2634V459.30h-3.2634zM430.39 321.63h3.2634V459.30h-3.2634zM433.65 363.62h3.2634V459.30h-3.2634zM436.92 367.20h3.2634V459.30h-3.2634zM440.18 393.22h3.2634V459.30h-3.2634zM443.44 383.31h3.2634V459.30h-3.2634zM446.71 364.45h3.2634V459.30h-3.2634zM449.97 400.38h3.2634V459.30h-3.2634zM453.23 404.78h3.2634V459.30h-3.2634zM456.50 419.10h3.2634V459.30h-3.2634zM459.76 396.80h3.2634V459.30h-3.2634zM463.02 440.71h3.2634V459.30h-3.2634zM466.29 413.73h3.2634V459.30h-3.2634zM469.55 419.10h3.2634V459.30h-3.2634zM472.81 415.52h3.2634V459.30h-3.2634zM476.08 393.22h3.2634V459.30h-3.2634zM479.34 442.50h3.2634V459.30h-3.2634zM482.60 438.92h3.2634V459.30h-3.2634zM485.87 433.56h3.2634V459.30h-3.2634zM489.13 423.64h3.2634V459.30h-3.2634zM492.39 428.19h3.2634V459.30h-3.2634zM495.66 440.71h3.2634V459.30h-3.2634zM498.92 437.14h3.2634V459.30h-3.2634zM502.18 416.48h3.2634V459.30h-3.2634zM505.45 417.31h3.2634V459.30h-3.2634zM508.71 434.38h3.2634V459.30h-3.2634zM511.97 443.33h3.2634V459.30h-3.2634zM515.24 441.54h3.2634V459.30h-3.2634zM518.50 441.54h3.2634V459.30h-3.2634zM521.76 440.71h3.2634V459.30h-3.2634zM525.03 442.50h3.2634V459.30h-3.2634zM528.29 444.29h3.2634V459.30h-3.2634zM531.55 441.54h3.2634V459.30h-3.2634zM534.82 444.29h3.2634V459.30h-3.2634zM538.08 446.08h3.2634V459.30h-3.2634zM541.34 444.29h3.2634V459.30h-3.2634zM544.61 444.29h3.2634V459.30h-3.2634zM547.87 438.92h3.2634V459.30h-3.2634zM551.13 446.08h3.2634V459.30h-3.2634zM554.40 443.33h3.2634V459.30h-3.2634zM557.66 433.14h3.2634V459.30h-3.2634zM560.92 444.29h3.2634V459.30h-3.2634zM564.19 446.91h3.2634V459.30h-3.2634zM567.45 446.08h3.2634V459.30h-3.2634zM570.71 447.87h3.2634V459.30h-3.2634zM573.98 451.32h3.2634V459.30h-3.2634zM577.24 442.23h3.2634V459.30h-3.2634zM580.51 447.87h3.2634V459.30h-3.2634zM583.77 448.70h3.2634V459.30h-3.2634zM587.03 451.45h3.2634V459.30h-3.2634zM590.30 452.28h3.2634V459.30h-3.2634zM593.56 453.10h3.2634V459.30h-3.2634zM596.82 446.91h3.2634V459.30h-3.2634zM600.09 444.98h3.2634V459.30h-3.2634zM603.35 455.86h3.2634V459.30h-3.2634zM606.61 452.28h3.2634V459.30h-3.2634zM609.88 455.17h3.2634V459.30h-3.2634zM613.14 449.66h3.2634V459.30h-3.2634zM616.40 454.48h3.2634V459.30h-3.2634zM619.67 450.49h3.2634V459.30h-3.2634zM622.93 449.39h3.2634V459.30h-3.2634zM626.19 449.39h3.2634V459.30h-3.2634zM629.46 449.94h3.2634V459.30h-3.2634zM632.72 449.39h3.2634V459.30h-3.2634zM635.98 446.50h3.2634V459.30h-3.2634zM639.25 448.84h3.2634V459.30h-3.2634zM642.51 456.27h3.2634V459.30h-3.2634zM645.77 453.24h3.2634V459.30h-3.2634zM649.04 453.38h3.2634V459.30h-3.2634zM652.30 456.27h3.2634V459.30h-3.2634zM655.56 455.17h3.2634V459.30h-3.2634zM658.83 453.38h3.2634V459.30h-3.2634zM662.09 452.28h3.2634V459.30h-3.2634zM665.35 452.83h3.2634V459.30h-3.2634zM668.62 456.82h3.2634V459.30h-3.2634zM671.88 452.83h3.2634V459.30h-3.2634zM675.14 447.19h3.2634V459.30h-3.2634zM678.41 453.38h3.2634V459.30h-3.2634zM681.67 455.17h3.2634V459.30h-3.2634zM684.93 450.63h3.2634V459.30h-3.2634zM688.20 453.38h3.2634V459.30h-3.2634zM691.46 456.27h3.2634V459.30h-3.2634zM694.72 455.17h3.2634V459.30h-3.2634zM697.99 447.74h3.2634V459.30h-3.2634zM701.25 449.39h3.2634V459.30h-3.2634zM704.51 452.28h3.2634V459.30h-3.2634zM707.78 451.73h3.2634V459.30h-3.2634zM711.04 445.40h3.2634V459.30h-3.2634zM714.30 447.74h3.2634V459.30h-3.2634zM717.57 448.29h3.2634V459.30h-3.2634zM720.83 451.73h3.2634V459.30h-3.2634zM724.09 452.28h3.2634V459.30h-3.2634zM727.36 451.73h3.2634V459.30h-3.2634zM730.62 447.74h3.2634V459.30h-3.2634zM733.88 452.83h3.2634V459.30h-3.2634zM737.15 451.73h3.2634V459.30h-3.2634zM740.41 453.24h3.2634V459.30h-3.2634zM743.68 446.08h3.2634V459.30h-3.2634zM746.94 452.28h3.2634V459.30h-3.2634zM750.20 450.49h3.2634V459.30h-3.2634zM753.47 450.49h3.2634V459.30h-3.2634zM756.73 445.12h3.2634V459.30h-3.2634zM759.99 453.24h3.2634V459.30h-3.2634zM763.26 455.03h3.2634V459.30h-3.2634zM766.52 456.82h3.2634V459.30h-3.2634zM769.78 450.49h3.2634V459.30h-3.2634zM773.05 454.07h3.2634V459.30h-3.2634zM776.31 455.86h3.2634V459.30h-3.2634zM779.57 456.82h3.2634V459.30h-3.2634zM782.84 457.65h3.2634V459.30h-3.2634zM786.10 456.82h3.2634V459.30h-3.2634zM789.36 457.65h3.2634V459.30h-3.2634zM792.63 457.92h3.2634V459.30h-3.2634zM795.89 457.65h3.2634V459.30h-3.2634zM799.15 457.65h3.2634V459.30h-3.2634zM802.42 456.82h3.2634V459.30h-3.2634zM805.68 457.65h3.2634V459.30h-3.2634zM808.94 455.45h3.2634V459.30h-3.2634zM812.21 458.20h3.2634V459.30h-3.2634zM815.47 455.86h3.2634V459.30h-3.2634zM818.73 456.82h3.2634V459.30h-3.2634zM822.00 457.92h3.2634V459.30h-3.2634zM825.26 457.92h3.2634V459.30h-3.2634zM828.52 457.92h3.2634V459.30h-3.2634zM831.79 457.92h3.2634V459.30h-3.2634zM835.05 457.92h3.2634V459.30h-3.2634zM838.31 457.92h3.2634V459.30h-3.2634zM841.58 457.92h3.2634V459.30h-3.2634zM844.84 457.92h3.2634V459.30h-3.2634zM848.10 457.92h3.2634V459.30h-3.2634zM851.37 457.92h3.2634V459.30h-3.2634zM854.63 457.92h3.2634V459.30h-3.2634zM857.89 457.92h3.2634V459.30h-3.2634zM861.16 457.92h3.2634V459.30h-3.2634zM864.42 457.92h3.2634V459.30h-3.2634zM867.68 457.92h3.2634V459.30h-3.2634zM870.95 457.92h3.2634V459.30h-3.2634zM874.21 457.92h3.2634V459.30h-3.2634zM877.47 457.92h3.2634V459.30h-3.2634zM880.74 457.92h3.2634V459.30h-3.2634zM884.00 457.92h3.2634V459.30h-3.2634zM887.26 457.92h3.2634V459.30h-3.2634zM890.53 457.92h3.2634V459.30h-3.2634zM893.79 457.92h3.2634V459.30h-3.2634zM897.05 457.92h3.2634V459.30h-3.2634zM900.32 456.55h3.2634V459.30h-3.2634zM903.58 456.55h3.2634V459.30h-3.2634zM906.85 456.55h3.2634V459.30h-3.2634zM910.11 456.55h3.2634V459.30h-3.2634zM913.37 456.55h3.2634V459.30h-3.2634zM916.64 456.55h3.2634V459.30h-3.2634zM919.90 457.92h3.2634V459.30h-3.2634zM923.16 457.92h3.2634V459.30h-3.2634zM926.43 457.92h3.2634V459.30h-3.2634zM929.69 457.92h3.2634V459.30h-3.2634zM932.95 457.92h3.2634V459.30h-3.2634zM936.22 457.92h3.2634V459.30h-3.2634zM939.48 457.92h3.2634V459.30h-3.2634z" fill="#cc0c00"/>
<g clip-path="url(#cb)" fill="none" stroke="#000"><path d="M84.47 453.60H949.27M84.47 450.60H949.27M84.47 442.64H949.27M84.47 439.64H949.27M84.47 431.68H949.27M84.47 428.68H949.27M84.47 420.71H949.27M84.47 417.71H949.27M84.47 409.75H949.27M84.47 406.75H949.27M84.47 398.79H949.27M84.47 395.79H949.27M84.47 387.83H949.27M84.47 384.83H949.27M84.47 376.87H949.27M84.47 373.87H949.27M84.47 365.90H949.27M84.47 362.90H949.27M84.47 354.94H949.27M84.47 351.94H949.27M84.47 343.98H949.27M84.47 340.98H949.27M84.47 333.02H949.27M84.47 330.02H949.27M84.47 322.06H949.27M84.47 319.06H949.27M84.47 311.09H949.27M84.47 308.09H949.27M84.47 300.13H949.27M84.47 297.13H949.27M84.47 289.17H949.27M84.47 286.17H949.27M84.47 278.21H949.27M84.47 275.21H949.27M84.47 267.25H949.27M84.47 264.25H949.27M84.47 256.28H949.27M84.47 253.28H949.27M84.47 245.32H949.27M84.47 242.32H949.27M84.47 234.36H949.27M84.47 231.36H949.27M84.47 223.40H949.27M84.47 220.40H949.27M84.47 212.44H949.27M84.47 209.44H949.27M84.47 201.47H949.27M84.47 198.47H949.27M84.47 190.51H949.27M84.47 187.51H949.27M84.47 179.55H949.27M84.47 176.55H949.27M84.47 168.59H949.27M84.47 165.59H949.27M84.47 157.63H949.27M84.47 154.63H949.27M84.47 146.66H949.27M84.47 143.66H949.27M84.47 135.70H949.27M84.47 132.70H949.27M84.47 124.74H949.27M84.47 121.74H949.27M84.47 113.78H949.27M84.47 110.78H949.27M84.47 102.82H949.27M84.47 99.82H949.27M84.47 91.85H949.27M84.47 88.85H949.27M84.47 80.89H949.27M84.47 77.89H949.27M84.47 69.93H949.27M84.47 66.93H949.27M84.47 58.97H949.27M84.47 55.97H949.27M84.47 48.01H949.27M84.47 45.01H949.27M84.47 37.04H949.27M84.47 34.04H949.27M84.47 26.08H949.27M84.47 23.08H949.27M84.47 15.12H949.27M84.47 12.12H949.27M84.47 4.16H949.27M84.47 1.16H949.27M84.47 -6.80H949.27M84.47 -9.80H949.27" stroke-width="1.0"/><path d="M84.47 456.40H949.27M84.47 447.34H949.27M84.47 445.44H949.27M84.47 436.38H949.27M84.47 434.48H949.27M84.47 425.41H949.27M84.47 423.51H949.27M84.47 414.45H949.27M84.47 412.55H949.27M84.47 403.49H949.27M84.47 401.59H949.27M84.47 392.53H949.27M84.47 390.63H949.27M84.47 381.57H949.27M84.47 379.67H949.27M84.47 370.60H949.27M84.47 368.70H949.27M84.47 359.64H949.27M84.47 357.74H949.27M84.47 348.68H949.27M84.47 346.78H949.27M84.47 337.72H949.27M84.47 335.82H949.27M84.47 326.76H949.27M84.47 324.86H949.27M84.47 315.79H949.27M84.47 313.89H949.27M84.47 304.83H949.27M84.47 302.93H949.27M84.47 293.87H949.27M84.47 291.97H949.27M84.47 282.91H949.27M84.47 281.01H949.27M84.47 271.95H949.27M84.47 270.05H949.27M84.47 260.98H949.27M84.47 259.08H949.27M84.47 250.02H949.27M84.47 248.12H949.27M84.47 239.06H949.27M84.47 237.16H949.27M84.47 228.10H949.27M84.47 226.20H949.27M84.47 217.14H949.27M84.47 215.24H949.27M84.47 206.17H949.27M84.47 204.27H949.27M84.47 195.21H949.27M84.47 193.31H949.27M84.47 184.25H949.27M84.47 182.35H949.27M84.47 173.29H949.27M84.47 171.39H949.27M84.47 162.33H949.27M84.47 160.43H949.27M84.47 151.36H949.27M84.47 149.46H949.27M84.47 140.40H949.27M84.47 138.50H949.27M84.47 129.44H949.27M84.47 127.54H949.27M84.47 118.48H949.27M84.47 116.58H949.27M84.47 107.52H949.27M84.47 105.62H949.27M84.47 96.55H949.27M84.47 94.65H949.27M84.47 85.59H949.27M84.47 83.69H949.27M84.47 74.63H949.27M84.47 72.73H949.27M84.47 63.67H949.27M84.47 61.77H949.27M84.47 52.71H949.27M84.47 50.81H949.27M84.47 41.74H949.27M84.47 39.84H949.27M84.47 30.78H949.27M84.47 28.88H949.27M84.47 19.82H949.27M84.47 17.92H949.27M84.47 8.86H949.27M84.47 6.96H949.27M84.47 -2.10H949.27M84.47 -4.00H949.27" stroke-width="1.35"/><path d="M84.47 459.30V2.24M87.73 459.30V2.24M91.00 459.30V2.24M94.26 459.30V2.24M97.52 459.30V2.24M100.79 459.30V2.24M104.05 459.30V2.24M107.31 459.30V2.24M110.58 459.30V2.24M113.84 459.30V2.24M117.10 459.30V2.24M120.37 459.30V2.24M123.63 459.30V2.24M126.89 459.30V2.24M130.16 459.30V2.24M133.42 459.30V2.24M136.68 459.30V2.24M139.95 459.30V2.24M143.21 459.30V2.24M146.47 459.30V2.24M149.74 459.30V2.24M153.00 459.30V2.24M156.26 459.30V2.24M159.53 459.30V2.24M162.79 459.30V2.24M166.05 459.30V2.24M169.32 459.30V2.24M172.58 459.30V2.24M175.84 459.30V2.24M179.11 459.30V2.24M182.37 459.30V2.24M185.63 459.30V2.24M188.90 459.30V2.24M192.16 459.30V2.24M195.42 459.30V2.24M198.69 459.30V2.24M201.95 459.30V2.24M205.21 459.30V2.24M208.48 459.30V2.24M211.74 459.30V2.24M215.00 459.30V2.24M218.27 459.30V2.24M221.53 459.30V2.24M224.79 459.30V2.24M228.06 459.30V2.24M231.32 459.30V2.24M234.58 459.30V2.24M237.85 459.30V2.24M241.11 459.30V2.24M244.37 459.30V2.24M247.64 459.30V2.24M250.90 459.30V2.24M254.17 459.30V2.24M257.43 459.30V2.24M260.69 459.30V2.24M263.96 459.30V2.24M267.22 459.30V2.24M270.48 459.30V2.24M273.75 459.30V2.24M277.01 459.30V2.24M280.27 459.30V2.24M283.54 459.30V2.24M286.80 459.30V2.24M290.06 459.30V2.24M293.33 459.30V2.24M296.59 459.30V2.24M299.85 459.30V2.24M303.12 459.30V2.24M306.38 459.30V2.24M309.64 459.30V2.24M312.91 459.30V2.24M316.17 459.30V2.24M319.43 459.30V2.24M322.70 459.30V2.24M325.96 459.30V2.24M329.22 459.30V2.24M332.49 459.30V2.24M335.75 459.30V2.24M339.01 459.30V2.24M342.28 459.30V2.24M345.54 459.30V2.24M348.80 459.30V2.24M352.07 459.30V2.24M355.33 459.30V2.24M358.59 459.30V2.24M361.86 459.30V2.24M365.12 459.30V2.24M368.38 459.30V2.24M371.65 459.30V2.24M374.91 459.30V2.24M378.17 459.30V2.24M381.44 459.30V2.24M384.70 459.30V2.24M387.96 459.30V2.24M391.23 459.30V2.24M394.49 459.30V2.24M397.75 459.30V2.24M401.02 459.30V2.24M404.28 459.30V2.24M407.54 459.30V2.24M410.81 459.30V2.24M414.07 459.30V2.24M417.34 459.30V2.24M420.60 459.30V2.24M423.86 459.30V2.24M427.13 459.30V2.24M430.39 459.30V2.24M433.65 459.30V2.24M436.92 459.30V2.24M440.18 459.30V2.24M443.44 459.30V2.24M446.71 459.30V2.24M449.97 459.30V2.24M453.23 459.30V2.24M456.50 459.30V2.24M459.76 459.30V2.24M463.02 459.30V2.24M466.29 459.30V2.24M469.55 459.30V2.24M472.81 459.30V2.24M476.08 459.30V2.24M479.34 459.30V2.24M482.60 459.30V2.24M485.87 459.30V2.24M489.13 459.30V2.24M492.39 459.30V2.24M495.66 459.30V2.24M498.92 459.30V2.24M502.18 459.30V2.24M505.45 459.30V2.24M508.71 459.30V2.24M511.97 459.30V2.24M515.24 459.30V2.24M518.50 459.30V2.24M521.76 459.30V2.24M525.03 459.30V2.24M528.29 459.30V2.24M531.55 459.30V2.24M534.82 459.30V2.24M538.08 459.30V2.24M541.34 459.30V2.24M544.61 459.30V2.24M547.87 459.30V2.24M551.13 459.30V2.24M554.40 459.30V2.24M557.66 459.30V2.24M560.92 459.30V2.24M564.19 459.30V2.24M567.45 459.30V2.24M570.71 459.30V2.24M573.98 459.30V2.24M577.24 459.30V2.24M580.51 459.30V2.24M583.77 459.30V2.24M587.03 459.30V2.24M590.30 459.30V2.24M593.56 459.30V2.24M596.82 459.30V2.24M600.09 459.30V2.24M603.35 459.30V2.24M606.61 459.30V2.24M609.88 459.30V2.24M613.14 459.30V2.24M616.40 459.30V2.24M619.67 459.30V2.24M622.93 459.30V2.24M626.19 459.30V2.24M629.46 459.30V2.24M632.72 459.30V2.24M635.98 459.30V2.24M639.25 459.30V2.24M642.51 459.30V2.24M645.77 459.30V2.24M649.04 459.30V2.24M652.30 459.30V2.24M655.56 459.30V2.24M658.83 459.30V2.24M662.09 459.30V2.24M665.35 459.30V2.24M668.62 459.30V2.24M671.88 459.30V2.24M675.14 459.30V2.24M678.41 459.30V2.24M681.67 459.30V2.24M684.93 459.30V2.24M688.20 459.30V2.24M691.46 459.30V2.24M694.72 459.30V2.24M697.99 459.30V2.24M701.25 459.30V2.24M704.51 459.30V2.24M707.78 459.30V2.24M711.04 459.30V2.24M714.30 459.30V2.24M717.57 459.30V2.24M720.83 459.30V2.24M724.09 459.30V2.24M727.36 459.30V2.24M730.62 459.30V2.24M733.88 459.30V2.24M737.15 459.30V2.24M740.41 459.30V2.24M743.68 459.30V2.24M746.94 459.30V2.24M750.20 459.30V2.24M753.47 459.30V2.24M756.73 459.30V2.24M759.99 459.30V2.24M763.26 459.30V2.24M766.52 459.30V2.24M769.78 459.30V2.24M773.05 459.30V2.24M776.31 459.30V2.24M779.57 459.30V2.24M782.84 459.30V2.24M786.10 459.30V2.24M789.36 459.30V2.24M792.63 459.30V2.24M795.89 459.30V2.24M799.15 459.30V2.24M802.42 459.30V2.24M805.68 459.30V2.24M808.94 459.30V2.24M812.21 459.30V2.24M815.47 459.30V2.24M818.73 459.30V2.24M822.00 459.30V2.24M825.26 459.30V2.24M828.52 459.30V2.24M831.79 459.30V2.24M835.05 459.30V2.24M838.31 459.30V2.24M841.58 459.30V2.24M844.84 459.30V2.24M848.10 459.30V2.24M851.37 459.30V2.24M854.63 459.30V2.24M857.89 459.30V2.24M861.16 459.30V2.24M864.42 459.30V2.24M867.68 459.30V2.24M870.95 459.30V2.24M874.21 459.30V2.24M877.47 459.30V2.24M880.74 459.30V2.24M884.00 459.30V2.24M887.26 459.30V2.24M890.53 459.30V2.24M893.79 459.30V2.24M897.05 459.30V2.24M900.32 459.30V2.24M903.58 459.30V2.24M906.85 459.30V2.24M910.11 459.30V2.24M913.37 459.30V2.24M916.64 459.30V2.24M919.90 459.30V2.24M923.16 459.30V2.24M926.43 459.30V2.24M929.69 459.30V2.24M932.95 459.30V2.24M936.22 459.30V2.24M939.48 459.30V2.24M942.74 459.30V2.24M946.01 459.30V2.24M949.27 459.30V2.24" stroke-width="1.1"/></g>
<path d="M84.47 459.30V457.92H87.73V457.92H91.00V455.17H94.26V456.55H97.52V449.66H100.79V444.16H104.05V444.16H107.31V451.73H110.58V448.29H113.84V445.53H117.10V438.10H120.37V434.52H123.63V449.66H126.89V428.19H130.16V432.32H133.42V426.67H136.68V434.52H139.95V437.96H143.21V437.41H146.47V429.01H149.74V429.98H153.00V420.06H156.26V431.77H159.53V424.61H162.79V415.93H166.05V445.12H169.32V427.22H172.58V423.09H175.84V432.59H179.11V399.83H182.37V407.54H185.63V430.80H188.90V406.30H192.16V431.77H195.42V398.04H198.69V398.59H201.95V395.28H205.21V406.30H208.48V417.31H211.74V434.38H215.00V417.31H218.27V409.33H221.53V402.72H224.79V406.30H228.06V413.73H231.32V390.47H234.58V421.85H237.85V417.31H241.11V336.22H244.37V356.74H247.64V396.80H250.90V376.15H254.17V382.34H257.43V390.47H260.69V361.83H263.96V306.49H267.22V383.31H270.48V353.29H273.75V365.41H277.01V339.53H280.27V377.94H283.54V372.57H286.80V342.28H290.06V400.38H293.33V380.42H296.59V396.66H299.85V411.94H303.12V416.48H306.38V413.73H309.64V390.60H312.91V392.53H316.17V392.53H319.43V400.38H322.70V362.38H325.96V381.10H329.22V393.22H332.49V396.66H335.75V348.61H339.01V344.21H342.28V358.80H345.54V341.45H348.80V353.43H352.07V371.47H355.33V359.49H358.59V317.64H361.86V308.55H365.12V288.59H368.38V256.51H371.65V308.69H374.91V311.30H378.17V283.08H381.44V283.36H384.70V259.68H387.96V233.52H391.23V197.04H394.49V177.08H397.75V240.40H401.02V221.13H404.28V205.99H407.54V217.00H410.81V36.65H414.07V4.99H417.34V233.52H420.60V189.47H423.86V296.85H427.13V341.59H430.39V205.99H433.65V292.72H436.92V283.08H440.18V332.64H443.44V321.63H446.71V311.99H449.97V373.39H453.23V368.99H456.50V401.20H459.76V379.45H463.02V426.40H466.29V387.85H469.55V386.06H472.81V398.59H476.08V365.41H479.34V428.19H482.60V420.61H485.87V418.83H489.13V395.56H492.39V399.83H495.66V424.61H498.92V402.99H502.18V391.98H505.45V415.52H508.71V402.72H511.97V423.09H515.24V420.61H518.50V425.98H521.76V420.61H525.03V426.67H528.29V429.01H531.55V423.09H534.82V424.88H538.08V429.01H541.34V425.98H544.61V430.80H547.87V410.56H551.13V440.71H554.40V417.31H557.66V426.40H560.92V437.14H564.19V442.09H567.45V432.32H570.71V440.30H573.98V440.71H577.24V429.56H580.51V434.38H583.77V438.92H587.03V442.50H590.30V438.92H593.56V440.30H596.82V437.14H600.09V429.56H603.35V438.92H606.61V440.30H609.88V445.12H613.14V437.14H616.40V442.50H619.67V447.87H622.93V440.71H626.19V437.14H629.46V447.87H632.72V442.50H635.98V429.56H639.25V443.33H642.51V449.66H645.77V453.24H649.04V446.36H652.30V453.24H655.56V451.45H658.83V446.36H662.09V450.49H665.35V449.25H668.62V454.07H671.88V449.25H675.14V437.41H678.41V437.41H681.67V439.75H684.93V438.92H688.20V441.54H691.46V438.92H694.72V441.54H697.99V427.22H701.25V427.77H704.51V435.35H707.78V421.85H711.04V415.93H714.30V427.22H717.57V423.09H720.83V434.38H724.09V420.61H727.36V433.56H730.62V420.61H733.88V426.40H737.15V420.61H740.41V427.22H743.68V410.56H746.94V413.46H750.20V413.73H753.47V413.46H756.73V407.54H759.99V418.83H763.26V435.35H766.52V442.50H769.78V427.22H773.05V423.09H776.31V435.35H779.57V442.50H782.84V451.45H786.10V443.33H789.36V453.24H792.63V454.76H795.89V433.83H799.15V437.41H802.42V447.87H805.68V451.45H808.94V447.87H812.21V457.65H815.47V440.30H818.73V448.15H822.00V452.14H825.26V452.83H828.52V450.08H831.79V448.01H835.05V446.63H838.31V451.45H841.58V452.14H844.84V450.08H848.10V450.76H851.37V445.12H854.63V450.08H857.89V452.83H861.16V457.79H864.42V453.52H867.68V450.08H870.95V443.47H874.21V454.21H877.47V449.39H880.74V455.03H884.00V453.52H887.26V450.08H890.53V448.42H893.79V448.42H897.05V454.21H900.32V450.08H903.58V448.42H906.85V451.45H910.11V439.61H913.37V446.63H916.64V452.14H919.90V452.83H923.16V452.14H926.43V452.14H929.69V448.42H932.95V448.42H936.22V443.74H939.48V432.59H942.74V445.67H946.01V449.39H949.27V459.30" fill="none" stroke="#000" stroke-width="0.9"/>
</g>
<polyline points="86.10,451.40 89.36,446.10 92.63,442.50 95.89,439.80 99.15,442.80 102.42,441.60 105.68,438.30 108.94,439.80 112.21,438.30 115.47,435.30 118.73,438.30 122.00,441.20 125.26,438.90 128.52,435.30 131.79,438.00 135.05,430.80 138.31,426.30 141.58,428.10 144.84,423.60 148.10,427.20 151.37,419.20 154.63,412.00 157.89,411.60 161.16,419.20 164.42,412.00 167.69,408.00 170.95,418.30 174.21,404.80 177.48,399.40 180.74,383.30 184.00,380.10 187.27,383.30 190.53,393.20 193.79,383.30 197.06,369.00 200.32,360.00 203.58,352.40 206.85,357.00 210.11,362.00 213.37,378.00 216.64,380.50 219.90,360.00 223.16,340.30 226.43,344.00 229.69,358.40 232.95,340.30 236.22,368.00 239.48,369.00 242.74,317.80 246.01,304.00 249.27,300.20 252.53,325.30 255.80,309.70 259.06,330.30 262.32,340.80 265.59,265.00 268.85,275.00 272.11,288.90 275.38,261.30 278.64,292.70 281.90,346.60 285.17,325.00 288.43,283.40 291.69,304.00 294.96,320.30 298.22,332.00 301.48,350.00 304.75,382.50 308.01,370.00 311.27,332.50 314.54,337.50 317.80,350.00 321.06,361.00 324.33,351.60 327.59,380.00 330.86,379.20 334.12,335.00 337.38,328.50 340.65,337.00 343.91,342.60 347.17,342.60 350.44,371.00 353.70,370.00 356.96,336.00 360.23,312.00 363.49,292.00 366.75,312.80 370.02,334.40 373.28,352.50 376.54,336.00 379.81,266.00 383.07,256.00 386.33,248.80 389.60,233.00 392.86,246.00 396.12,266.80 399.39,236.00 402.65,142.60 405.91,132.60 409.18,122.40 412.44,125.00 415.70,108.00 418.97,173.00 422.23,92.00 425.49,15.70 428.76,61.50 432.02,65.70 435.28,103.00 438.55,140.00 441.81,187.80 445.07,184.00 448.34,115.40 451.60,120.30 454.86,165.00 458.13,272.00 461.39,380.00 464.65,263.00 467.92,147.00 471.18,164.00 474.44,12.50 477.71,112.00 480.97,185.30 484.23,308.00 487.50,197.80 490.76,232.00 494.02,126.30 497.29,170.20 500.55,212.00 503.82,251.40 507.08,260.20 510.34,315.40 513.61,311.60 516.87,242.00 520.13,257.60 523.40,274.00 526.66,294.00 529.92,307.80 533.19,332.90 536.45,355.50 539.71,284.70 542.98,325.40 546.24,336.70 549.50,344.20 552.77,362.70 556.03,386.90 559.29,408.40 562.56,352.80 565.82,367.20 569.08,370.80 572.35,377.00 575.61,383.30 578.87,398.00 582.14,401.20 585.40,382.40 588.66,383.70 591.93,386.50 595.19,395.90 598.45,396.80 601.72,413.80 604.98,422.70 608.24,398.00 611.51,400.30 614.77,403.90 618.03,411.10 621.30,408.00 624.56,422.70 627.82,421.90 631.09,402.10 634.35,403.90 637.61,412.00 640.88,416.50 644.14,420.10 647.40,425.40 650.67,423.60 653.93,417.00 657.20,423.10 660.46,427.20 663.72,431.40 666.99,434.40 670.25,441.00 673.51,432.60 676.78,428.10 680.04,430.30 683.30,432.20 686.57,433.90 689.83,442.10 693.09,438.00 696.36,441.00 699.62,427.20 702.88,437.10 706.15,432.60 709.41,430.80 712.67,432.60 715.94,435.30 719.20,438.00 722.46,434.40 725.73,436.20 728.99,434.40 732.25,431.70 735.52,437.10 738.78,438.00 742.04,440.70 745.31,436.20 748.57,435.30 751.83,434.40 755.10,434.40 758.36,438.90 761.62,447.80 764.89,446.10 768.15,443.40 771.41,441.60 774.68,444.30 777.94,446.90 781.20,448.70 784.47,452.30 787.73,451.40 790.99,449.60 794.26,446.90 797.52,446.10 800.78,446.10 804.05,449.60 807.31,452.30 810.57,449.60 813.84,445.20 817.10,447.80 820.37,448.70 823.63,450.10 826.89,451.50 830.16,451.20 833.42,450.40 836.68,450.10 839.95,451.20 843.21,451.20 846.47,450.40 849.74,451.50 853.00,451.20 856.26,452.20 859.53,450.80 862.79,451.50 866.05,452.60 869.32,452.20 872.58,454.30 875.84,454.60 879.11,455.00 882.37,452.90 885.63,451.50 888.90,450.80 892.16,450.40 895.42,452.90 898.69,454.60 901.95,455.00 905.21,454.60 908.48,453.60 911.74,452.20 915.00,451.50 918.27,452.20 921.53,452.20 924.79,452.20 928.06,452.20 931.32,452.90 934.58,453.60 937.85,452.90 941.11,451.50 944.37,452.90 947.64,453.60" fill="none" stroke="#000" stroke-width="2.1" stroke-linejoin="round" stroke-linecap="butt"/>
<rect x="417.7" y="141" width="3" height="11.4" fill="#fff" opacity="0.36"/>
<path d="M669.6 6.2V459.3" stroke="#666" stroke-width="1.05" stroke-dasharray="2.9 2.85" fill="none"/>
<text x="675.5" y="53.4" font-size="20" fill="#555" stroke="#555" stroke-width="0.3" text-anchor="middle">*</text>
<path d="M41.45 5V459.8M992.2 5V459.8" stroke="#505050" stroke-width="1.2" fill="none"/>
<path d="M38.0 459.30H41.6M38.0 390.47H41.6M38.0 321.63H41.6M38.0 252.80H41.6M38.0 183.96H41.6M38.0 115.12H41.6M38.0 46.29H41.6M992.8 459.30h2.1M992.8 334.30h2.1M992.8 209.30h2.1M992.8 84.30h2.1M85.52 459.6v1.8M183.43 459.6v1.8M284.61 459.6v1.8M382.53 459.6v1.8M483.70 459.6v1.8M584.88 459.6v1.8M676.27 459.6v1.8M777.45 459.6v1.8M875.36 459.6v1.8M976.54 459.6v1.8" stroke="#333" stroke-width="0.9" fill="none"/>
<g font-size="12" fill="#333" stroke="#333" stroke-width="0.25">
<text x="35.8" y="464.20" text-anchor="end">0</text>
<text x="35.8" y="395.37" text-anchor="end">50</text>
<text x="35.8" y="326.53" text-anchor="end">100</text>
<text x="35.8" y="257.69" text-anchor="end">150</text>
<text x="35.8" y="188.86" text-anchor="end">200</text>
<text x="35.8" y="120.03" text-anchor="end">250</text>
<text x="35.8" y="51.19" text-anchor="end">300</text>
<text x="996.8" y="464.20">0</text>
<text x="996.8" y="339.20">1000</text>
<text x="996.8" y="214.20">2000</text>
<text x="996.8" y="89.20">3000</text>
<text transform="translate(96.22,463.4) rotate(-90)" text-anchor="end" letter-spacing="-0.25">01 Sep</text>
<text transform="translate(194.13,463.4) rotate(-90)" text-anchor="end" letter-spacing="-0.25">01 Oct</text>
<text transform="translate(295.31,463.4) rotate(-90)" text-anchor="end" letter-spacing="-0.25">01 Nov</text>
<text transform="translate(393.23,463.4) rotate(-90)" text-anchor="end" letter-spacing="-0.25">01 Dec</text>
<text transform="translate(494.40,463.4) rotate(-90)" text-anchor="end" letter-spacing="-0.25">01 Jan</text>
<text transform="translate(595.58,463.4) rotate(-90)" text-anchor="end" letter-spacing="-0.25">01 Feb</text>
<text transform="translate(686.97,463.4) rotate(-90)" text-anchor="end" letter-spacing="-0.25">01 Mar</text>
<text transform="translate(788.15,463.4) rotate(-90)" text-anchor="end" letter-spacing="-0.25">01 Apr</text>
<text transform="translate(886.06,463.4) rotate(-90)" text-anchor="end" letter-spacing="-0.25">01 May</text>
<text transform="translate(987.24,463.4) rotate(-90)" text-anchor="end" letter-spacing="-0.25">01 Jun</text>
</g>
<text transform="translate(14.3,232.0) rotate(-90)" text-anchor="middle" font-size="14" fill="#000" stroke="#000" stroke-width="0.3">Daily School Cases</text>
<text transform="translate(1024.0,231.4) rotate(90)" text-anchor="middle" font-size="14" fill="#000" stroke="#000" stroke-width="0.3">All Wales Daily Cases</text>
<text x="516" y="517.6" text-anchor="middle" font-size="14" fill="#000" stroke="#000" stroke-width="0.3">Sample date</text>
<rect x="465.6" y="534.7" width="15.3" height="14.6" fill="#0064c8" stroke="#000" stroke-width="0.8"/>
<text x="487" y="547" font-size="13.3" fill="#000" stroke="#000" stroke-width="0.25">Pupil</text>
<rect x="523.2" y="534.7" width="15.3" height="14.6" fill="#cc0c00" stroke="#000" stroke-width="0.8"/>
<text x="544.6" y="547" font-size="13.3" fill="#000" stroke="#000" stroke-width="0.25" letter-spacing="0.5">Staff</text>
</svg></body></html>
